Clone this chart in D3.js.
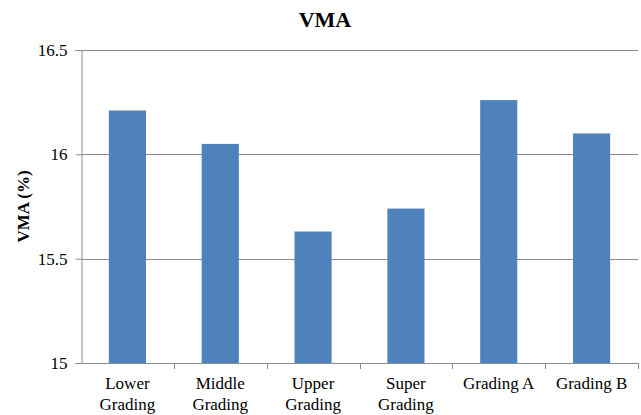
<!DOCTYPE html>
<html>
<head>
<meta charset="utf-8">
<script src="https://cdn.jsdelivr.net/npm/d3@7"></script>
<style>
  html, body { margin: 0; padding: 0; background: #fff; }
  svg { display: block; }
  svg text { font-family: "Liberation Serif", "Times New Roman", serif; }
</style>
</head>
<body>
<svg id="chart" width="641" height="415"></svg>
<script>
// VMA (%) for each aggregate grading
const categories = [["Lower", "Grading"], ["Middle", "Grading"], ["Upper", "Grading"], ["Super", "Grading"], ["Grading A"], ["Grading B"]];
const vmaValues = [16.21, 16.05, 15.63, 15.74, 16.26, 16.10];
const yTicks = [15, 15.5, 16, 16.5];
const yTickLabels = ["15", "15.5", "16", "16.5"];

const W = 641, H = 415;
const margin = { left: 81, right: 3, top: 50, bottom: 52 };
const serif = '"Liberation Serif", "Times New Roman", serif';

const svg = d3.select("#chart");
const keys = categories.map(c => c.join(" "));

const x = d3.scaleBand()
  .domain(keys)
  .range([margin.left, W - margin.right])
  .paddingInner(0.6)
  .paddingOuter(0.3);

const y = d3.scaleLinear()
  .domain([15, 16.5])
  .range([H - margin.bottom, margin.top]);

// horizontal gridlines
svg.append("g")
  .selectAll("line")
  .data(yTicks.filter(t => t !== 15))
  .join("line")
  .attr("x1", margin.left)
  .attr("x2", W - margin.right)
  .attr("y1", d => Math.round(y(d)) + 0.5)
  .attr("y2", d => Math.round(y(d)) + 0.5)
  .attr("stroke", "#8c8c8c")
  .attr("stroke-width", 1);

// bars
svg.append("g")
  .selectAll("rect")
  .data(vmaValues)
  .join("rect")
  .attr("x", (d, i) => x(keys[i]))
  .attr("width", x.bandwidth())
  .attr("y", d => y(d))
  .attr("height", d => y(15) - y(d))
  .attr("fill", "#4f81bd");

// y axis
const yAxis = d3.axisLeft(y)
  .tickValues(yTicks)
  .tickFormat((d, i) => yTickLabels[i])
  .tickSize(6)
  .tickPadding(8);

const gy = svg.append("g")
  .attr("transform", `translate(${margin.left + 0.5},0)`)
  .call(yAxis)
  .attr("font-family", null)
  .attr("font-size", null);
gy.selectAll("path, line").attr("stroke", "#8c8c8c");
gy.selectAll("text")
  .style("font-family", serif)
  .style("font-size", "17px")
  .attr("fill", "#000");

// x axis with ticks between categories
const n = keys.length;
const boundaries = d3.range(1, n + 1).map(i => margin.left + i * (W - margin.right - margin.left) / n);
const gx = svg.append("g");
gx.append("line")
  .attr("x1", margin.left)
  .attr("x2", W - margin.right)
  .attr("y1", Math.round(y(15)) + 0.5)
  .attr("y2", Math.round(y(15)) + 0.5)
  .attr("stroke", "#8c8c8c");
gx.selectAll("line.tick")
  .data(boundaries)
  .join("line")
  .attr("class", "tick")
  .attr("x1", d => Math.round(d) + 0.5)
  .attr("x2", d => Math.round(d) + 0.5)
  .attr("y1", Math.round(y(15)))
  .attr("y2", Math.round(y(15)) + 6)
  .attr("stroke", "#8c8c8c");

const labels = gx.selectAll("text")
  .data(categories)
  .join("text")
  .attr("x", (d, i) => x(keys[i]) + x.bandwidth() / 2)
  .attr("y", 389)
  .attr("text-anchor", "middle")
  .style("font-family", serif)
  .style("font-size", "17px")
  .attr("fill", "#000");
labels.selectAll("tspan")
  .data(d => d)
  .join("tspan")
  .attr("x", function () { return d3.select(this.parentNode).attr("x"); })
  .attr("dy", (d, i) => i === 0 ? 0 : 21)
  .text(d => d);

// title
svg.append("text")
  .attr("x", 325)
  .attr("y", 27)
  .attr("text-anchor", "middle")
  .style("font-family", serif)
  .style("font-weight", "bold")
  .style("font-size", "22px")
  .text("VMA");

// y axis title
svg.append("text")
  .attr("transform", `translate(29,${(y(15) + y(16.5)) / 2}) rotate(-90)`)
  .attr("text-anchor", "middle")
  .style("font-family", serif)
  .style("font-weight", "bold")
  .style("font-size", "17px")
  .text("VMA (%)");
</script>
</body>
</html>
